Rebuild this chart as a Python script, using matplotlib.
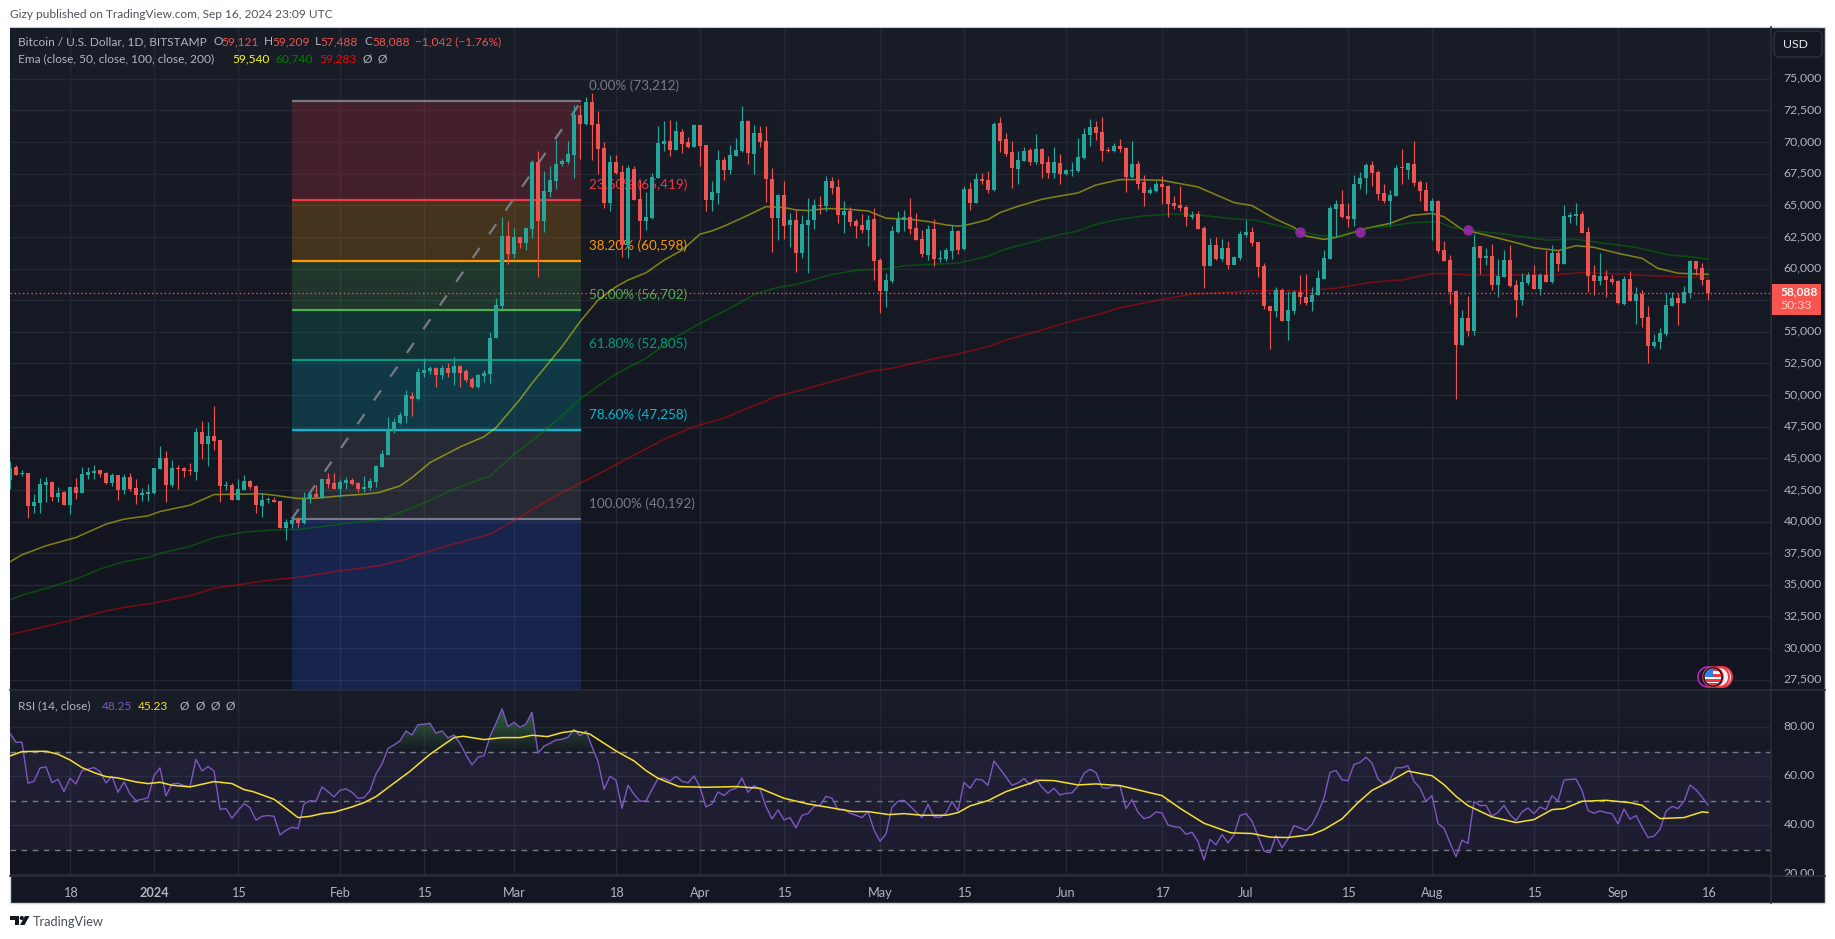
import numpy as np
import matplotlib
matplotlib.use("Agg")
import matplotlib.pyplot as plt
from matplotlib.patches import Rectangle, Circle, Polygon, FancyBboxPatch
from matplotlib.path import Path
from matplotlib.ticker import FuncFormatter
from matplotlib.transforms import ScaledTranslation

opens = [
43267,44293,43740,43819,41216,41479,42873,43109,41926,42320,
41295,42715,42241,43662,43819,44056,43819,43030,43662,42478,
43504,42636,42084,42189,42241,44135,45003,42873,44214,44214,
44082,43898,47054,46107,46739,46423,42794,42873,41689,42478,
43188,42794,41216,41689,41689,41610,39480,39769,40111,39875,
41821,42163,41978,43346,43057,42557,43030,43267,43030,42557,
42636,43109,44293,45240,47133,47764,48317,
49935,49724,51776,51907,52170,51592,52118,51776,52302,51907,
51250,50671,51539,51697,54537,57036,62559,61138,62480,62006,
63111,68397,63742,66030,66898,68239,68397,68950,72105,71395,
73131,71395,69502,65162,68397,67608,61848,67845,65478,63742,
63979,67135,69817,70054,69344,70764,69975,69581,71316,69738,
65399,65951,68555,67766,68871,69265,71632,69028,70685,70054,
67108,63979,
65794,63426,63821,61217,63426,63821,65005,64926,66898,66425,
64216,64531,63742,63426,63032,63900,60665,58219,59008,62874,
63821,64058,63190,62322,61059,63111,60744,60744,61375,62953,
61533,66267,65162,67056,66977,66188,71474,70212,69186,67845,
68476,69344,68397,69423,68397,67529,68318,67450,67687,67687,
68713,70527,71159,70764,69344,69265,69660,69502,67214,68239,
66819,65951,66109,66662,66504,65162,65005,64847,64058,64294,
63190,60192,61848,60744,61612,60271,60823,62638,62874,62085,
60209,57059,56613,58319,55825,56665,58109,57741,57321,57873,
59185,60786,64698,65091,64146,63910,66667,67139,68163,67611,
65958,65328,65721,68005,67769,68241,66824,66194,64540,65328,
61469,60681,58188,53988,56114,55090,61784,60839,60996,58713,
59343,60681,58713,57531,58870,59500,58398,59500,58949,61233,
60366,64094,64146,64304,62886,59500,59028,59421,59185,59028,
57217,59185,57453,58004,56193,53909,54224,54854,57059,57689,
57295,58083,60603,60051,59121]

highs = [
44792,44451,44082,43819,42163,43477,43530,43214,42741,42399,
42767,43477,44345,44319,44451,44056,43898,43819,43662,43740,
43872,43346,42636,42952,44267,45950,45555,44845,44451,44293,
44608,47370,47922,47843,49106,46423,43188,43030,43346,43662,
43293,42873,42241,41978,41926,41610,40164,40348,40348,42320,
42320,42873,43399,43872,43819,43346,43504,43451,43109,43583,
43425,44451,45634,48238,48185,48632,50368,
50276,52118,52906,52302,52249,52381,52512,52985,52381,52039,
51460,51670,51986,54958,57640,64084,63742,63242,62480,63295,
68608,69265,67713,68082,70186,68687,70054,72895,72895,73552,
73868,72447,70001,68950,68950,68161,68161,68082,66977,66057,
67582,71238,71632,71764,71658,71054,70396,71395,71316,69738,
66924,69344,68818,69739,70343,72816,71764,71316,71290,71238,
67924,65873,
66898,64373,64610,64216,65557,65478,65715,67293,67214,67056,
65320,64847,63900,64294,64216,64768,60823,59639,63348,64531,
64610,65557,64373,63032,63426,63900,61454,61612,63426,63085,
66504,66819,67529,67529,67687,71553,71948,70685,70054,69265,
69581,69502,70606,69502,68871,69581,69028,67845,68397,70291,
71080,71790,71632,71948,69581,69896,70212,69581,70054,68476,
67372,66425,66898,67293,66583,65715,66504,65005,64531,64531,
63348,62401,62480,62322,62164,60981,62953,63821,63269,62085,
60419,57059,58581,58450,58188,58319,59500,59579,58581,59894,
61469,64934,65406,66194,65144,67428,67638,68373,68478,67769,
66667,66194,68215,69423,68346,70053,66981,66824,65564,65406,
62178,61075,58319,56744,57794,62729,61784,61600,61915,60760,
61469,61863,59106,59631,59763,60288,59631,61469,61863,61469,
65013,64488,65170,64540,63280,60288,61233,59894,59500,59106,
59421,59815,58555,58319,57059,54854,55326,58083,58109,58083,
58634,60681,60603,60446,59209]

lows = [
42557,43662,43609,40295,40716,40663,41558,41637,41558,41295,
40611,41768,42241,43372,43346,43504,42978,42820,41689,42163,
42426,41373,41610,41610,42163,44135,41531,42715,42557,43504,
43662,43267,44924,44372,45634,41531,42478,41689,41689,42478,
42557,40663,40348,41452,41531,39480,38533,39480,39559,39795,
41452,41847,41847,42689,42557,41926,42557,42873,42320,42320,
42478,42767,44293,45240,47028,47685,47764,
48357,49619,51407,51670,50671,51250,51460,50829,50671,51065,
50592,50592,51013,50987,54484,56773,60376,60797,61664,61454,
62453,59350,62900,65636,66267,68082,68292,67161,68634,71369,
68555,67503,64820,64557,67503,60928,60797,65399,62322,63032,
63953,67135,69265,68897,69344,69134,69554,69581,68082,64557,
64557,65083,66977,67503,68871,69213,68239,67503,69607,65267,
61296,62243,
62374,61691,59718,60823,59639,63111,64294,64531,65872,63584,
62795,63348,62401,62795,61770,59087,56483,56957,58850,62795,
62953,62716,62243,60902,60665,60192,60507,60586,60744,61138,
61454,64610,65162,66662,65951,66109,69186,68871,66346,66662,
68476,68161,68239,67187,67135,67135,66662,67372,67293,67608,
68634,69660,70133,68476,69186,69186,69186,66030,67135,66267,
64926,65872,66030,65083,64058,64689,64531,63348,63900,63111,
58456,60192,60665,60586,59955,60271,60665,62480,61770,59324,
56823,53646,56167,55825,54381,56403,57217,57138,56613,57873,
59185,60786,62519,63963,63306,63359,66273,65931,66509,65459,
65144,63438,65721,66667,67060,66509,65328,64540,62256,61259,
60603,57217,49656,53988,54644,54775,59579,60288,58319,57715,
59343,58555,56193,57138,58713,58398,57925,58949,58870,59815,
60366,63595,63438,62808,58109,57925,58713,57768,58791,57217,
57138,57453,55641,55405,52570,53751,53673,54644,57006,55563,
57269,57689,59500,58713,57488]

closes = [
44214,43662,43819,41216,41531,42952,43109,41926,42294,41295,
42715,42241,43740,43898,44030,43740,43030,43662,42478,43504,
42557,42084,42241,42320,44214,45003,42873,44214,44135,43977,
44003,47054,46107,46739,46344,42794,42873,41689,42557,43188,
42715,41295,41689,41768,41531,39480,39953,40111,39875,41821,
42163,41978,43346,42952,42557,43109,43267,42952,42557,42715,
43188,44372,45318,47291,47843,48396,49974,
49724,51828,51986,52118,51592,52118,51776,52302,51776,51197,
50671,51592,51723,54484,57114,62559,61138,62480,62033,63190,
68397,63742,66109,66977,68292,68476,69028,72105,71395,73131,
71316,69423,65162,68397,67529,61848,67924,65399,63742,64058,
67214,69896,70054,69344,70843,69817,69581,71316,69660,65399,
66030,68555,67766,68950,69344,71632,69107,70685,69975,67056,
63979,65794,
63348,63821,61217,63505,63821,65005,64926,66898,66346,64216,
64531,63663,63348,63032,63821,60586,58219,59087,62953,63900,
64058,63111,62243,61138,63111,60744,60823,61454,62953,61454,
66267,65162,67056,66898,66188,71395,70054,69028,67924,68555,
69265,68397,69423,68239,67529,68397,67450,67766,67766,68792,
70606,71159,70685,69265,69265,69660,69423,67214,68239,66662,
65951,66188,66662,66425,65083,64926,64768,64058,64216,63111,
60192,61848,60744,61612,60271,60902,62717,62874,62006,60113,
57006,56613,58319,55825,56744,58109,57715,57269,57926,59264,
60839,64750,65091,64094,63910,66719,67192,68163,67533,65879,
65328,65800,67926,67926,68320,66745,66115,64540,65328,61390,
60603,58135,53988,56114,55090,61705,60839,60996,58713,59421,
60681,58634,57531,58949,59500,58398,59500,58949,61233,60366,
64146,64225,64304,62808,59421,59028,59421,59106,58949,57295,
59185,57453,58004,56114,53909,54224,54933,57138,57689,57295,
58135,60603,59973,59106,58088]

ema50_bars = [0,2,6,11,16,19,23,25,30,34,37,42,44,48,51,55,59,61.5,65,67,70,75,79,81,85,87,
 92,95,98,101,103,106,109,112,115,117,119,123,126,129,131,133,136,139,143,146,150,153,156,158,160,163,165,168,172,175,178,181,185,188,192,198,204,207,
 210.7,214,216,219,221,223,226,230,233.5,237,239,242,246,251,254,258,261,264,268,272,274.6,278,283]
ema50_vals = [36824,37376,38086,38744,39796,40190,40453,40795,41295,42136,42163,42189,42084,41821,41847,42031,42163,42294,42820,43477,44661,45897,46712,47423,49658,50934,
 53827,55799,57509,58561,59087,59666,60665,61454,62716,62980,63348,64216,64899,64820,64636,64584,64741,64715,64557,63979,63900,63716,63453,63348,63505,63874,64426,64926,65478,65741,65978,66609,67030,67030,66977,66451,65215,64978,
 63963,63254,62571,62309,62467,62729,63175,63569,64199,64357,64094,63096,62650,62046,61653,61417,61810,61679,61206,60813,60025,59631,59540]

ema100_bars = [0,2,6,11,15,19,23,25,30,34,39,44,48,52,56,61.5,65,68.5,75,80,84,87.6,91,94.6,98,101,106,110.6,115,119.4,124.4,
 128,131,133,137,141,146,149,154,158,163,166,171,174,178,181,185,189,194,198,204,
 207.5,211,214.5,217.6,221,223,227,230,233.5,238,240,243,249,256,261,265,271,276.5,280,283]
ema100_vals = [33825,34194,34720,35456,36245,36824,37165,37481,38034,38717,39164,39348,39375,39611,39848,40137,40716,41373,42767,43609,45318,46633,47948,49526,50710,51671,52907,54484,55668,56720,58035,
 58508,58745,59008,59534,59850,59981,60218,60350,60428,60981,61560,62164,62585,62980,63505,63900,64163,64321,64242,63926,
 63832,63438,63044,62650,62519,62782,63254,63359,63621,63700,63306,63044,62729,62256,62309,62046,61679,61075,60944,60740]

ema200_bars = [0,6,10,15,19,24,30,34,38,43,48,54,61.5,66,70,75,80,83,87.6,92,98,103,109,114,119,123,128,
 132,137,143,147,153,158,163,166,171,176,181,185,192,197,203,207,211,216,221,227,232,237,240,244,249,257.5,262,268,274,283]
ema200_vals = [31064,31721,32169,32826,33221,33562,34141,34720,35009,35351,35587,36035,36508,37034,37691,38349,39006,39796,41110,42294,43740,45000,46500,47500,48173,48961,49935,
 50408,51066,51855,52117,52775,53248,53827,54353,55011,55721,56326,56904,57562,57982,58114,58246,58267,58240,58450,58923,59107,59605,59605,59474,59500,59500,59684,59579,59421,59283]

cross_bars = [215,225,243]
cross_prices = [62860,62860,63018]

fib_start_bar = 46.95
fib_end_bar = 95.2
fib_pcts = ["0.00%","23.60%","38.20%","50.00%","61.80%","78.60%","100.00%"]
fib_prices = [73212,65419,60598,56702,52805,47258,40192]
fib_colors = ["#787b86","#f23645","#ff9800","#4caf50","#089981","#00bcd4","#787b86"]
fib_below_color = "#2962ff"

rsi_vals = [
77.55,73.88,73.88,57.14,57.96,63.40,63.81,57.41,58.78,53.74,
59.18,56.87,62.31,62.86,63.54,61.90,57.28,60.0,53.47,57.69,
52.79,50.07,50.61,51.16,60.27,63.40,51.97,56.87,57.14,56.19,
55.78,66.94,62.18,63.95,62.18,46.53,46.80,42.86,45.99,48.84,
47.21,42.04,43.67,43.95,43.67,36.05,37.96,39.18,38.64,48.71,
50.07,49.80,55.65,53.74,51.56,54.29,54.83,53.47,51.02,51.29,
54.15,60.95,65.03,71.29,72.79,74.42,78.50,76.87,81.09,81.22,
81.63,77.55,78.50,75.65,76.87,73.47,68.71,64.63,67.76,68.44,
76.19,81.63,87.48,80.27,82.04,80,81.36,86.12,69.52,72.24,
73.47,74.83,75.10,75.92,79.18,76.60,78.50,72.11,66.0,
54.69,60,58.37,46.94,56.33,52.65,49.80,49.93,54.56,59.05,
59.18,58.10,60.0,57.96,57.28,60.14,55.51,47.48,48.71,53.61,
52.11,54.29,55.10,59.32,53.47,56.19,54.69,47.62,42.59,46.26,
42.18,43.13,38.91,44.08,44.76,47.62,48.16,51.84,51.02,46.26,
46.53,44.90,44.08,43.13,45.58,38.10,33.47,36.46,47.35,49.80,
50.20,47.89,45.44,43.13,48.57,43.40,43.27,44.90,49.80,45.85,
57.55,55.10,58.78,58.50,56.33,66.26,62.99,59.73,56.33,57.28,
59.05,56.60,58.78,55.51,53.06,55.10,52.38,53.06,53.20,56.05,
61.22,62.86,61.50,55.37,55.10,56.19,56.19,46.80,50.48,45.31,
42.72,43.40,45.44,45.03,40.14,39.46,39.05,36.33,37.14,33.33,
25.85,34.29,31.97,
36.23,32.84,36.10,43.96,44.77,41.65,35.55,29.46,28.78,35.82,
30.81,34.47,39.89,38.94,37.86,40.30,45.04,51.14,61.57,62.38,
58.59,58.18,64.82,65.64,67.80,65.36,58.86,56.83,58.59,63.47,
63.47,64.28,57.91,55.20,49.78,52.08,40.70,38.81,32.84,27.15,
33.93,32.57,49.78,48.02,48.16,43.68,45.31,48.16,44.36,41.92,
45.45,47.07,44.77,47.48,46.39,52.08,49.92,58.45,58.72,58.86,
54.25,45.99,44.90,45.85,45.18,44.77,40.57,46.67,42.47,43.96,
39.35,35.01,35.55,38.26,45.72,47.75,46.80,49.78,56.42,54.52,
51.54,48.25]

rsi_ma_bars = [0,2,6,8,10,12,14,16,18,21,23,25,27,30,34,37,39,40.5,44,46,48,50,52,54,57,59,61,63.6,66.6,70,74,75.5,79,82,85,87,89.6,92,94,96.6,99,
 101,104,106,108,111.5,116,121,125,129,133,137,140.5,143,146.5,149,152,156,158,160,163,166,171.5,174,178,181,185,192,195,199,
 203.5,207,210,213,217,219,222,224.6,227,230,233,237,239,241,243,247,251,254,257,259,262,266,270,272,275,279,282,283]
rsi_ma_vals = [68.30,70.07,70.20,68.98,66.67,63.54,61.50,59.86,59.32,57.69,57.01,57.55,56.33,55.65,57.82,57.01,54.56,53.74,50.61,46.94,43.13,43.67,44.76,45.31,47.48,49.25,51.70,56.46,61.90,68.98,75.78,76.33,74.97,75.78,75.78,76.73,76.19,77.82,78.50,77.28,73.47,
 70.34,66.26,62.31,59.18,55.78,55.51,55.78,55.10,51.02,48.71,47.07,45.58,45.58,44.35,44.76,44.08,44.08,45.17,47.89,50.07,53.74,58.37,58.23,56.46,56.87,56.19,52.11,46.94,40.82,
 36.91,36.64,35.15,35.01,36.23,38.26,42.60,49.10,54.25,57.91,62.11,60.22,56.56,51.81,48.02,43.41,41.11,42.33,46.39,46.80,49.78,50.19,49.24,48.16,42.74,43.14,45.45,45.23]

price_ticks = list(range(27500, 75001, 2500))
rsi_ticks = [20, 40, 60, 80]
rsi_levels = [70, 50, 30]
date_bars = [10,24,38,55,69,84,101,115,129,145,159,176,192,206,223,237,254,268,283]
date_labels = ["18","2024","15","Feb","15","Mar","18","Apr","15","May","15","Jun","17","Jul","15","Aug","15","Sep","16"]

FONT = "Lato"
plt.rcParams["font.family"] = [FONT, "DejaVu Sans"]
W, H = 1835, 939
GRID = "#242833"
TXT = "#b2b5be"
UP, DN = "#26a69a", "#ef5350"
TOP, BOT = "#191d28", "#12151f"
TICK = 8.8

def px(x0, y0, x1, y1):
    return [x0/W, 1-y1/H, (x1-x0)/W, (y1-y0)/H]

fig = plt.figure(figsize=(W/100, H/100), dpi=100, facecolor="white")

under = fig.add_axes([0,0,1,1], zorder=0)
under.set_xlim(0,W); under.set_ylim(H,0); under.axis("off")
under.add_patch(Rectangle((10,27),1815,876,fc="#131722",ec="#d1d4dc",lw=1))

ax = fig.add_axes(px(10,28,1771,690), zorder=2)
rx = fig.add_axes(px(10,690,1771,876), zorder=2, sharex=ax)

def bg(a):
    g = np.linspace(0,1,200)[:,None]
    c0 = np.array(matplotlib.colors.to_rgb(TOP)); c1 = np.array(matplotlib.colors.to_rgb(BOT))
    a.imshow((c0[None,None,:]*(1-g[...,None])+c1[None,None,:]*g[...,None]), extent=(0,1,0,1),
             transform=a.transAxes, aspect="auto", zorder=-10, interpolation="bilinear")
bg(ax); bg(rx)

bars = np.arange(len(closes))
o,h,l,c = map(np.array,(opens,highs,lows,closes))

# fib
for i in range(len(fib_prices)-1):
    ax.fill_between([fib_start_bar,fib_end_bar],fib_prices[i],fib_prices[i+1],color=fib_colors[i+1],alpha=.2,lw=0,zorder=1)
ax.fill_between([fib_start_bar,fib_end_bar],fib_prices[-1],20000,color=fib_below_color,alpha=.2,lw=0,zorder=1)
ax.hlines(fib_prices,fib_start_bar,fib_end_bar,colors=fib_colors,lw=1.6,zorder=1.5)
ax.plot([fib_start_bar,fib_end_bar],[fib_prices[-1],fib_prices[0]],color="#787b86",lw=1.6,dashes=(5.5,7.5),zorder=1.6)
for pct,p,col in zip(fib_pcts,fib_prices,fib_colors):
    ax.annotate(f"{pct} ({p:,})",(fib_end_bar,p),xytext=(8,15.5),textcoords="offset pixels",
                color=col,fontsize=9.7,va="center",ha="left",zorder=1.7)

# EMA
ax.plot(ema50_bars,ema50_vals,color="#ffff00",alpha=.45,lw=1.15,zorder=2)
ax.plot(ema100_bars,ema100_vals,color="#008000",alpha=.5,lw=1.15,zorder=2)
ax.plot(ema200_bars,ema200_vals,color="#ff0000",alpha=.42,lw=1.15,zorder=2)
# candles
cols = np.where(c>=o,UP,DN)
ax.vlines(bars,l,h,colors=cols,lw=0.85,zorder=3)
ax.bar(bars,np.maximum(np.abs(c-o),40),bottom=np.minimum(o,c),width=0.8,color=cols,lw=0,zorder=3.1)
ax.scatter(cross_bars,cross_prices,s=58,color="#9c27b0",alpha=.85,lw=0,zorder=4)
ax.axhline(closes[-1],color=DN,lw=1,ls=(0,(1,2)),zorder=3.5)

ax.set_xlim(0,293.5); ax.set_ylim(26685,79017)
ax.yaxis.tick_right()
ax.set_yticks(price_ticks)
ax.yaxis.set_major_formatter(FuncFormatter(lambda v,_:"" if int(v)==57500 else f"{int(v):,}"))
ax.tick_params(axis="y",length=0,pad=9,labelcolor=TXT,labelsize=TICK)
ax.tick_params(axis="x",length=0,labelbottom=False)
ax.grid(True,color=GRID,lw=1,zorder=0)
ax.set_axisbelow(True)

# RSI
r = np.array(rsi_vals); rb = np.arange(len(r))
rx.axhspan(30,70,color="#7e57c2",alpha=.1,lw=0,zorder=1)
rx.hlines(rsi_levels,0,293.5,colors="#787b86",lw=1,linestyles=(0,(4,4)),zorder=1.5)
def grad(mask_fn, lo, hi, color, strong_at_top):
    fb = rx.fill_between(rb,lo if strong_at_top else hi,r,where=mask_fn(r),interpolate=True,facecolor="none",lw=0)
    paths = fb.get_paths()
    if not paths: return
    g = np.linspace(0,1,100)[:,None]
    rgb = matplotlib.colors.to_rgb(color)
    img = np.ones((100,1,4)); img[...,:3]=rgb
    img[...,3] = (g if strong_at_top else 1-g)[...,0][:,None]*0.55
    im = rx.imshow(img,origin="lower",extent=(0,293.5,lo,hi),aspect="auto",zorder=1.2,interpolation="bilinear")
    im.set_clip_path(Path.make_compound_path(*paths),rx.transData)
grad(lambda v:v>=70,70,90,"#4caf50",True)
grad(lambda v:v<=30,20,30,"#f23645",False)
rx.plot(rb,r,color="#7e57c2",lw=1.0,zorder=2)
rx.plot(rsi_ma_bars,rsi_ma_vals,color="#f5e02e",lw=1.1,zorder=2.2)
rx.set_ylim(19.3,95.2); rx.set_xlim(0,293.5)
rx.yaxis.tick_right()
rx.set_yticks(rsi_ticks); rx.set_yticklabels([f"{t:.2f}" for t in rsi_ticks])
rx.tick_params(axis="y",length=0,pad=9,labelcolor=TXT,labelsize=TICK)
rx.set_xticks(date_bars); rx.set_xticklabels(date_labels)
rx.tick_params(axis="x",length=0,pad=8,labelcolor=TXT,labelsize=9.2)
for t in rx.get_xticklabels():
    if t.get_text()=="2024": t.set_fontweight("bold")
rx.grid(True,color=GRID,lw=1,zorder=0); rx.set_axisbelow(True)
ax.set_xticks(date_bars)
for a in (ax,rx):
    for s in a.spines.values(): s.set_visible(False)
up = ScaledTranslation(0,1.5/100,fig.dpi_scale_trans)
for a in (ax,rx):
    for t in a.get_yticklabels():
        t.set_transform(t.get_transform()+up)

# overlay
ov = fig.add_axes([0,0,1,1], zorder=5)
ov.set_xlim(0,W); ov.set_ylim(H,0); ov.axis("off")
for y in (690,876):
    ov.plot([10,1825],[y,y],color="#2a2e39",lw=1.2)
ov.plot([1771,1771],[27,903],color="#2a2e39",lw=1.2)
ov.text(10,15,"Gizy published on TradingView.com, Sep 16, 2024 23:09 UTC",color="#50535e",fontsize=8.6,va="center")
S=8.55
def seq(items,y,size=S):
    for x,t,col,*w in items:
        ov.text(x,y,t,color=col,fontsize=size,va="center",fontweight=(w[0] if w else "normal"))
R="#ef5350"
seq([(18,"Bitcoin / U.S. Dollar, 1D, BITSTAMP",TXT),(213,"O",TXT),(221,"59,121",R),(264,"H",TXT),(272.5,"59,209",R),
     (314.6,"L",TXT),(320.7,"57,488",R),(364,"C",TXT),(372,"58,088",R),(415,"\u22121,042 (\u22121.76%)",R)],41.5)
seq([(18,"Ema (close, 50, close, 100, close, 200)",TXT),(232.7,"59,540","#ffff00"),(275.5,"60,740","#008000"),
     (319,"59,283","#ff0000"),(362,"\u00d8",TXT),(377,"\u00d8",TXT)],59)
seq([(18,"RSI (14, close)",TXT),(102,"48.25","#7e57c2"),(138,"45.23","#f5e02e"),(179,"\u00d8",TXT),(195,"\u00d8",TXT),(210,"\u00d8",TXT),(225,"\u00d8",TXT)],706)

# price label
ov.add_patch(Rectangle((1772,284),49,31,fc="#f6564f",ec="none"))
ov.text(1780,291.7,"58,088",color="white",fontsize=8.6,fontweight="bold",va="center")
ov.text(1780,305.7,"50:33",color="#ffd0cc",fontsize=8.8,va="center")
# USD button
ov.add_patch(FancyBboxPatch((1774,31),48,26,boxstyle="round,pad=0,rounding_size=5",fc="#131722",ec="#2a2e39",lw=1.2))
ov.text(1795,45,"USD",color="#e6e8ee",fontsize=8.8,ha="center",va="center")

# event icons
ov.add_patch(Circle((1708,677),10,fc="#131722",ec="#9c27b0",lw=1.4))
ov.add_patch(Circle((1722,677),10,fc="#f0f0f0",ec="#f23645",lw=1.4))
ov.add_patch(Circle((1719,677),10,fc="#f0f0f0",ec="#f23645",lw=1.4))
ov.add_patch(Circle((1713,677),10,fc="white",ec="#f23645",lw=1.2))
ov.add_patch(Circle((1713,677),9,fc="white",ec="#131722",lw=1.2))
clip = Circle((1713,677),8.4,transform=ov.transData)
for y0,hh in ((668,3),(673.5,3),(679,2.6),(683,4)):
    rr = Rectangle((1703,y0),21,hh,fc="#f23645",ec="none"); ov.add_patch(rr); rr.set_clip_path(clip)
cb = Rectangle((1703,668),10,9,fc="#2f80ed",ec="none"); ov.add_patch(cb); cb.set_clip_path(clip)
stripes = Rectangle((1722,671),8,11,fc="#f23645",ec="none",alpha=.0); ov.add_patch(stripes)

# logo
ov.text(33,921.5,"TradingView",color="#4a4e59",fontsize=9.2,va="center")
ov.add_patch(Polygon([(10,916),(19,916),(19,925),(14.5,925),(14.5,919.5),(10,919.5)],fc="#131722",ec="none"))
ov.add_patch(Circle((21.8,918),2.1,fc="#131722",ec="none"))
ov.add_patch(Polygon([(25,916),(29.5,916),(24.5,925),(20,925)],fc="#131722",ec="none"))

fig.savefig("out.png",dpi=100,facecolor="white")
